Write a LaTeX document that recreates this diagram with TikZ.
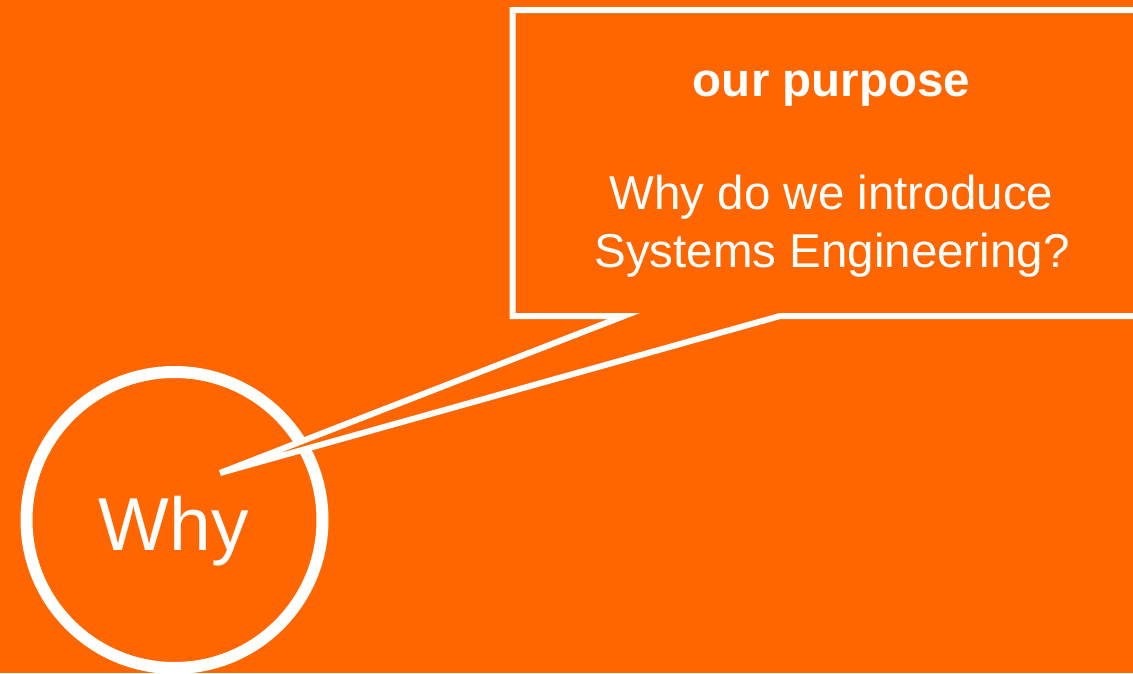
\documentclass[tikz,border=0pt]{standalone}
\usepackage{fontspec}
\setmainfont{Liberation Sans}
\definecolor{slideorange}{RGB}{255,102,0}

\begin{document}
\begin{tikzpicture}[x=1pt, y=-1pt,
    outline/.style = {draw=white, line width=6pt},
    ringline/.style = {draw=white, line width=12pt},
    slidetext/.style = {anchor=base, text=white, inner sep=0pt}]
    \useasboundingbox[fill=slideorange] (0,0) rectangle (1133,673);
    \clip (0,0) rectangle (1133,673);

    \node[circle, ringline, minimum size=296pt, inner sep=0pt] (whyring) at (174.5,520) {};
    \node[slidetext, font=\fontsize{75}{80}\selectfont] (whytext) at (173.5,550) {Why};

    % callout box, the pointer ends inside the ring
    \coordinate (tip) at (220,473);
    \draw[outline, fill=slideorange]
        (512.5,10) coordinate(boxNW) -- (1140,10) -- (1140,316)
        -- (780,316) coordinate(ptrR) -- (tip) -- (624,316) coordinate(ptrL)
        -- (512.5,316) coordinate(boxSW) -- cycle;

    \node[slidetext, font=\bfseries\fontsize{47.5}{52}\selectfont] (title) at (831.5,96) {our purpose};
    \node[slidetext, font=\fontsize{47.5}{52}\selectfont] (question) at (831.5,209) {Why do we introduce};
    \node[slidetext, font=\fontsize{47.5}{52}\selectfont] (questionb) at (832,267) {Systems Engineering?};
\end{tikzpicture}
\end{document}
